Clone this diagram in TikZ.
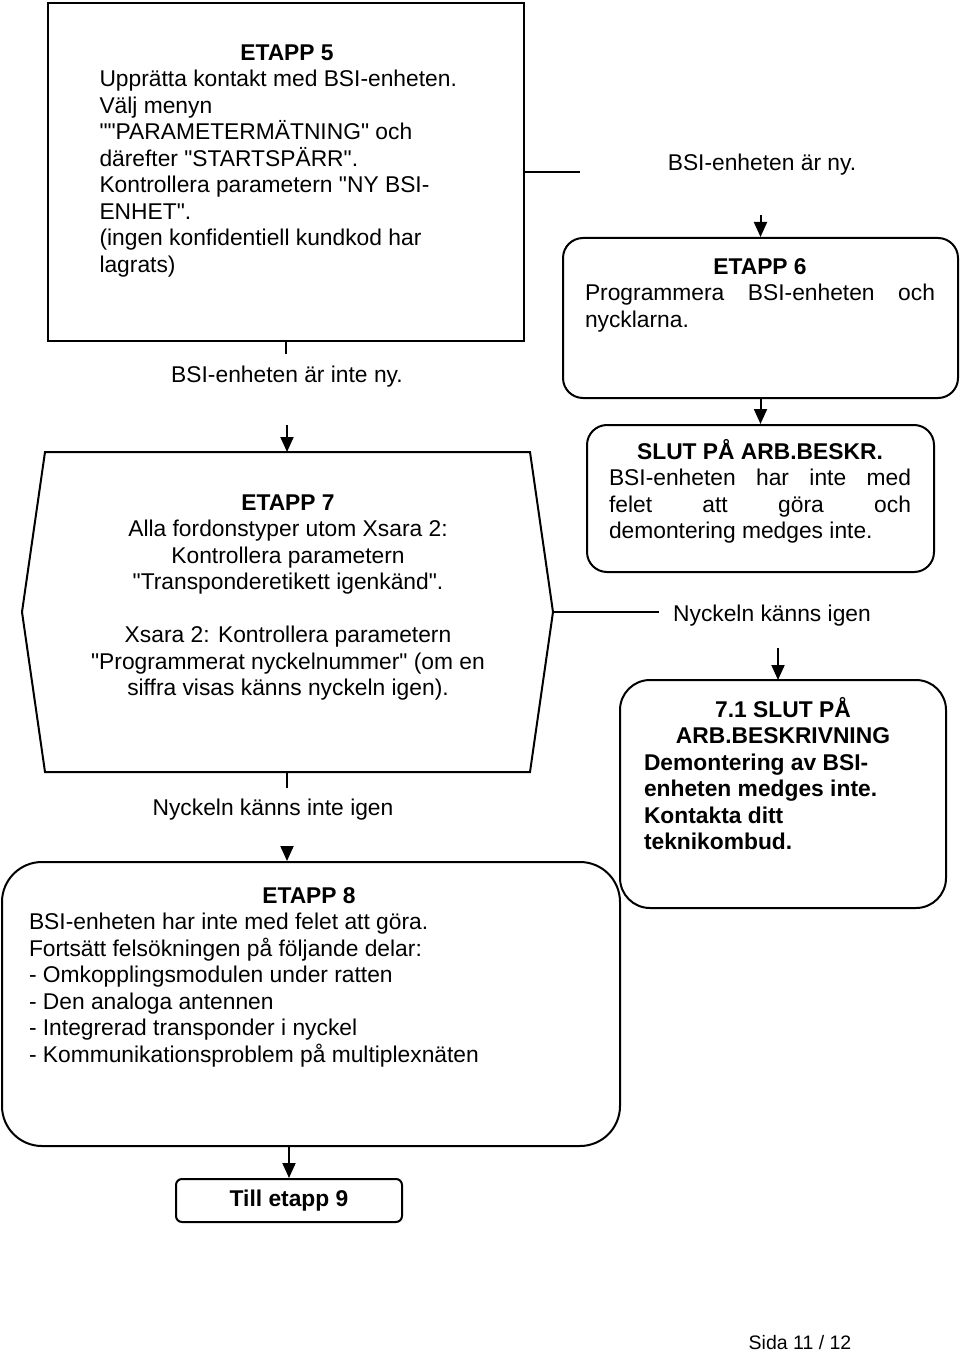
\documentclass[tikz,border=0pt]{standalone}
\usepackage{fontspec}
\setmainfont{Liberation Sans}[Ligatures=TeXOff]
\usetikzlibrary{arrows.meta}
\newcommand{\fs}{\fontsize{11.4pt}{13.25pt}\selectfont}
\newcommand{\fl}{\rule{0pt}{11pt}}
\begin{document}
\begin{tikzpicture}[x=0.5pt,y=-0.5pt,
  box/.style={draw, line width=1pt, inner sep=0pt},
  lbl/.style={inner sep=0pt, font=\fs},
  txt/.style={inner sep=0pt, align=center, anchor=north, font=\fs},
  con/.style={line width=1pt},
  arr/.style={line width=1pt, -{Triangle[length=7.5pt,width=6.5pt]}}]
\useasboundingbox (0,0) rectangle (960,1353);

% boxes
\node[box, minimum width=238pt, minimum height=169pt] (e5) at (286,172) {};
\node[box, rounded corners=10pt, minimum width=197.5pt, minimum height=80pt] (e6) at (760.5,318) {};
\node[box, rounded corners=10pt, minimum width=173.5pt, minimum height=73.5pt] (slut) at (760.5,498.5) {};
\node[box, rounded corners=15pt, minimum width=163pt, minimum height=114pt] (e71) at (783,794) {};
\node[box, rounded corners=20pt, minimum width=309pt, minimum height=142pt] (e8) at (311,1004) {};
\node[box, rounded corners=3pt, minimum width=113pt, minimum height=21.5pt, font=\fs\bfseries] (t9) at (289,1200.5) {Till etapp 9};

% hexagon ETAPP 7
\coordinate (h1) at (45,452);
\coordinate (h2) at (530,452);
\coordinate (e7r) at (553,612);
\coordinate (h4) at (530,772);
\coordinate (h5) at (45,772);
\coordinate (h6) at (22,612);
\coordinate (e7t) at (287,452);
\coordinate (e7b) at (287,772);
\coordinate (a71) at (778,680);
\draw[con] (h1) -- (h2) -- (e7r) -- (h4) -- (h5) -- (h6) -- cycle;

% texts
\node[txt] (t5) at (287,38) {\fl\textbf{ETAPP 5}\\
  \makebox[187.5pt][l]{Upprätta kontakt med BSI-enheten.}\\
  \makebox[187.5pt][l]{Välj menyn}\\
  \makebox[187.5pt][l]{""PARAMETERMÄTNING" och}\\
  \makebox[187.5pt][l]{därefter "STARTSPÄRR".}\\
  \makebox[187.5pt][l]{Kontrollera parametern "NY BSI-}\\
  \makebox[187.5pt][l]{ENHET".}\\
  \makebox[187.5pt][l]{(ingen konfidentiell kundkod har}\\
  \makebox[187.5pt][l]{lagrats)}};

\node[txt] (t6) at (760,252) {\fl\textbf{ETAPP 6}\\
  \makebox[175pt][s]{Programmera BSI-enheten och}\\
  \makebox[175pt][l]{nycklarna.}};

\node[txt] (tslut) at (760,437) {\fl\textbf{SLUT PÅ ARB.BESKR.}\\
  \makebox[151pt][s]{BSI-enheten har inte med}\\
  \makebox[151pt][s]{felet att göra och}\\
  \makebox[151pt][l]{demontering medges inte.}};

\node[txt] (t7) at (288,488) {\fl\textbf{ETAPP 7}\\
  Alla fordonstyper utom Xsara 2:\\
  Kontrollera parametern\\
  "Transponderetikett igenkänd".\\[13.25pt]
  Xsara 2: Kontrollera parametern\\
  "Programmerat nyckelnummer" (om en\\
  siffra visas känns nyckeln igen).};

\node[txt, font=\fs\bfseries] (t71) at (783,695) {\fl 7.1 SLUT PÅ\\
  ARB.BESKRIVNING\\
  \makebox[139pt][l]{Demontering av BSI-}\\
  \makebox[139pt][l]{enheten medges inte.}\\
  \makebox[139pt][l]{Kontakta ditt}\\
  \makebox[139pt][l]{teknikombud.}};

\node[txt] (t8) at (309,881) {\fl\textbf{ETAPP 8}\\
  \makebox[280pt][l]{BSI-enheten har inte med felet att göra.}\\
  \makebox[280pt][l]{Fortsätt felsökningen på följande delar:}\\
  \makebox[280pt][l]{- Omkopplingsmodulen under ratten}\\
  \makebox[280pt][l]{- Den analoga antennen}\\
  \makebox[280pt][l]{- Integrerad transponder i nyckel}\\
  \makebox[280pt][l]{- Kommunikationsproblem på multiplexnäten}};

% labels
\node[lbl] (lblny) at (762,165) {BSI-enheten är ny.};
\node[lbl] (lbln) at (287,377) {BSI-enheten är inte ny.};
\node[lbl] (lblk) at (772,616) {Nyckeln känns igen};
\node[lbl] (lblni) at (273,810) {Nyckeln känns inte igen};
\node[inner sep=0pt, font=\fontsize{9.75pt}{11pt}\selectfont] (sida) at (800,1343) {Sida 11 / 12};

% connectors
\draw[con, shorten >=6pt] (e5.south) -- (e5.south |- lbln.north);
\draw[arr, shorten <=18.5pt] (e7t |- lbln.south) -- (e7t);
\draw[con, shorten >=43.5pt] (e5.east) -- (e5.east -| lblny.west);
\draw[arr, shorten <=19.5pt] (e6.north |- lblny.south) -- (e6.north);
\draw[arr] (e6.south) -- (slut.north);
\draw[con, shorten >=7pt] (e7r) -- (e7r -| lblk.west);
\draw[arr, shorten <=10.5pt] (a71 |- lblk.south) -- (a71);
\draw[con, shorten >=5.5pt] (e7b) -- (e7b |- lblni.north);
\draw[arr, shorten <=12.5pt] (e7b |- lblni.south) -- (e7b |- e8.north);
\draw[arr] (t9.north |- e8.south) -- (t9.north);
\end{tikzpicture}
\end{document}
